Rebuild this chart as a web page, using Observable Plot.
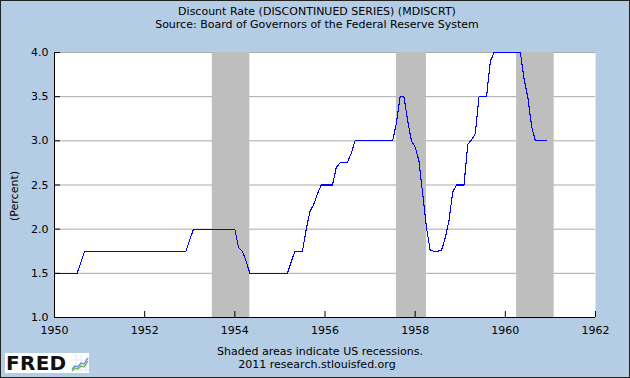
<!DOCTYPE html>
<html>
<head>
<meta charset="utf-8">
<script src="https://cdn.jsdelivr.net/npm/d3@7"></script>
<script src="https://cdn.jsdelivr.net/npm/@observablehq/plot@0.6"></script>
<style>
  html, body { margin: 0; padding: 0; background: #ffffff; }
  #wrap {
    position: relative; width: 630px; height: 378px; overflow: hidden;
    background: #b4cde4; box-shadow: inset 0 0 0 1px #222;
    font-family: "DejaVu Sans", Verdana, sans-serif; color: #000;
  }
  #wrap svg { position: absolute; left: 0; top: 0; }
  .txt { position: absolute; width: 460px; text-align: center; font-size: 11px; line-height: 13px; white-space: nowrap; }
  #ylab { position: absolute; font-size: 11px; line-height: 13px; white-space: nowrap;
          transform: translate(-50%, -50%) rotate(-90deg); }
  #logo { position: absolute; left: 5px; top: 353px; width: 84px; height: 20px; background: #fff; }
  #logo span { position: absolute; left: 1px; top: -2px; font: bold 20px/24px "DejaVu Sans", sans-serif; letter-spacing: 0.3px; color: #111; }
  #logo svg { left: 66px; top: 2px; }
</style>
</head>
<body>
<div id="wrap">
  <div class="txt" id="title" style="left:87px; top:4.5px;"></div>
  <div class="txt" id="subtitle" style="left:87px; top:18px;"></div>
  <div id="ylab" style="left:13.5px; top:196px;"></div>
  <div class="txt" id="note" style="left:90px; top:345px;"></div>
  <div class="txt" id="credit" style="left:87px; top:358px;"></div>
  <div id="logo"><span>FRED</span>
    <svg width="18" height="17" viewBox="0 0 18 17">
      <rect x="0" y="0" width="18" height="17" fill="#fff"/>
      <path d="M0 5H18M0 10H18M0 15H18M5 0V17M10 0V17M15 0V17" stroke="#dde3ea" stroke-width="0.8"/>
      <polyline points="1,14 4,11 7,12 10,8 13,9 17,3" fill="none" stroke="#5a8ed0" stroke-width="1.3"/>
      <polyline points="1,16 4,13 7,14 10,11 13,12 17,6" fill="none" stroke="#6bb04a" stroke-width="1.3"/>
    </svg>
  </div>
</div>
<script>
// ---- texts ----
const titleText = "Discount Rate (DISCONTINUED SERIES) (MDISCRT)";
const subtitleText = "Source: Board of Governors of the Federal Reserve System";
const yLabelText = "(Percent)";
const noteText = "Shaded areas indicate US recessions.";
const creditText = "2011 research.stlouisfed.org";

// ---- axes ----
const xTicks = [1950, 1952, 1954, 1956, 1958, 1960, 1962];
const yTicks = [1.0, 1.5, 2.0, 2.5, 3.0, 3.5, 4.0];
const yGrid = [1.5, 2.0, 2.5, 3.0, 3.5, 4.0];

// ---- recessions (start, end as decimal years) ----
const recessionStart = [1953 + 6/12, 1957 + 7/12, 1960 + 3/12];
const recessionEnd   = [1954 + 4/12, 1958 + 3/12, 1961 + 1/12];

// ---- monthly discount rate, Jan..Dec ----
const rateYears = [1950, 1951, 1952, 1953, 1954, 1955, 1956, 1957, 1958, 1959, 1960];
const rate1950 = [1.50, 1.50, 1.50, 1.50, 1.50, 1.50, 1.50, 1.62, 1.75, 1.75, 1.75, 1.75];
const rate1951 = [1.75, 1.75, 1.75, 1.75, 1.75, 1.75, 1.75, 1.75, 1.75, 1.75, 1.75, 1.75];
const rate1952 = [1.75, 1.75, 1.75, 1.75, 1.75, 1.75, 1.75, 1.75, 1.75, 1.75, 1.75, 1.75];
const rate1953 = [1.88, 2.00, 2.00, 2.00, 2.00, 2.00, 2.00, 2.00, 2.00, 2.00, 2.00, 2.00];
const rate1954 = [2.00, 1.79, 1.75, 1.64, 1.50, 1.50, 1.50, 1.50, 1.50, 1.50, 1.50, 1.50];
const rate1955 = [1.50, 1.50, 1.50, 1.63, 1.75, 1.75, 1.75, 2.00, 2.20, 2.28, 2.40, 2.50];
const rate1956 = [2.50, 2.50, 2.50, 2.70, 2.75, 2.75, 2.76, 2.86, 3.00, 3.00, 3.00, 3.00];
const rate1957 = [3.00, 3.00, 3.00, 3.00, 3.00, 3.00, 3.00, 3.20, 3.50, 3.50, 3.23, 3.00];
const rate1958 = [2.93, 2.77, 2.40, 2.02, 1.76, 1.75, 1.75, 1.76, 1.90, 2.10, 2.42, 2.50];
const rate1959 = [2.50, 2.50, 2.96, 3.01, 3.08, 3.50, 3.50, 3.50, 3.90, 4.00, 4.00, 4.00];
const rate1960 = [4.00, 4.00, 4.00, 4.00, 4.00, 3.70, 3.49, 3.16, 3.00, 3.00, 3.00, 3.00];
const rateRows = [rate1950, rate1951, rate1952, rate1953, rate1954, rate1955,
                  rate1956, rate1957, rate1958, rate1959, rate1960];

// ---- build tables ----
const series = rateYears.flatMap((yr, i) =>
  rateRows[i].map((v, m) => ({t: yr + m / 12, rate: v})));
const recessions = recessionStart.map((s, i) => ({start: s, end: recessionEnd[i]}));

document.getElementById("title").textContent = titleText;
document.getElementById("subtitle").textContent = subtitleText;
document.getElementById("ylab").textContent = yLabelText;
document.getElementById("note").textContent = noteText;
document.getElementById("credit").textContent = creditText;

const W = 630, H = 378, ML = 54, MR = 35, MT = 52, MB = 61;
const plotW = W - ML - MR, plotH = H - MT - MB, TICK = 6;

const chart = Plot.plot({
  width: W, height: H,
  marginLeft: ML, marginRight: MR, marginTop: MT, marginBottom: MB,
  style: {background: "transparent", fontFamily: "'DejaVu Sans', Verdana, sans-serif", fontSize: "11px", color: "#000", overflow: "visible"},
  x: {type: "linear", domain: [1950, 1962]},
  y: {type: "linear", domain: [1, 4]},
  marks: [
    Plot.frame({fill: "#ffffff", stroke: null}),
    Plot.ruleY(yGrid, {stroke: "#a9a9a9", strokeWidth: 1}),
    Plot.rect(recessions, {x1: "start", x2: "end", y1: () => 1, y2: () => 4, fill: "#bebebe"}),
    Plot.line(series, {x: "t", y: "rate", stroke: "#0000ff", strokeWidth: 1.1, shapeRendering: "crispEdges"}),
    Plot.ruleX([1950], {stroke: "#000"}),
    Plot.ruleY([1], {stroke: "#000"}),
    Plot.tickY(yTicks, {y: d => d, stroke: "#000", insetRight: plotW - TICK}),
    Plot.tickX(xTicks, {x: d => d, stroke: "#000", insetTop: plotH - TICK}),
    Plot.axisY(yTicks, {tickSize: 0, tickPadding: 6, tickFormat: d => d.toFixed(1), label: null}),
    Plot.axisX(xTicks, {tickSize: 0, tickPadding: 9, tickFormat: d => String(d), label: null})
  ]
});
document.getElementById("wrap").appendChild(chart);
</script>
</body>
</html>
